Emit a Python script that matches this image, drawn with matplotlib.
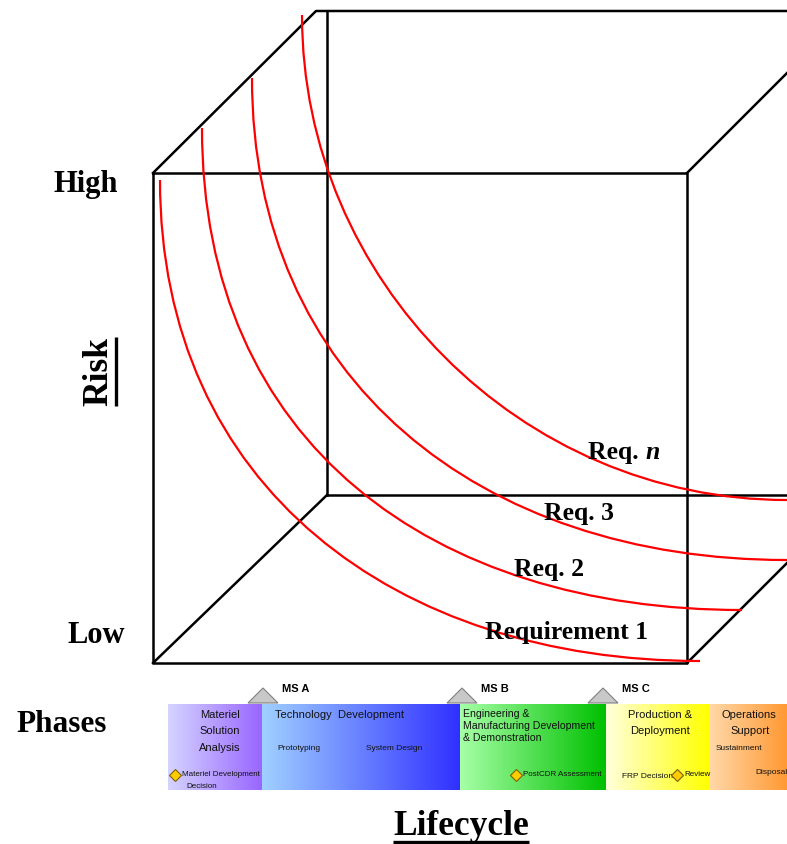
import numpy as np
import matplotlib
matplotlib.use("Agg")
import matplotlib.pyplot as plt
from matplotlib.path import Path
from matplotlib.patches import PathPatch, Polygon

# ---------------- data (pixel space) ----------------
req_labels = ["Requirement 1", "Req. 2", "Req. 3", "Req. "]

req1_x = [160, 162, 167, 175, 188, 200, 233, 267, 302, 322, 400, 483, 550, 633, 700]
req1_y = [180, 200, 233, 300, 350, 383, 433, 483, 522, 540, 597, 633, 652, 661, 661]

req2_x = [202, 208, 218, 233, 260, 290, 327, 368, 400, 427, 500, 550, 633, 742]
req2_y = [128, 200, 250, 300, 367, 407, 453, 497, 520, 540, 580, 600, 611, 610]

req3_x = [252, 255, 263, 283, 305, 327, 357, 400, 450, 490, 567, 633, 687, 787]
req3_y = [78, 133, 200, 250, 300, 340, 377, 423, 463, 496, 540, 558, 562, 560]

reqn_x = [302, 308, 328, 337, 353, 393, 433, 467, 480, 567, 587, 687, 787]
reqn_y = [15, 100, 173, 200, 233, 300, 340, 377, 387, 448, 457, 490, 500]

phase_names = ["Materiel\nSolution\nAnalysis", "Technology  Development",
               "Engineering &\nManufacturing Development\n& Demonstration",
               "Production &\nDeployment", "Operations\nSupport"]
phase_start = [168, 262, 460, 606, 710]
phase_end = [262, 460, 606, 710, 787]
phase_left_colors = ["#d4d4ff", "#a0d0ff", "#a6ffa6", "#ffffdc", "#ffd8a8"]
phase_right_colors = ["#9966ff", "#3030ff", "#00c000", "#ffff00", "#ff9933"]

milestones = ["MS A", "MS B", "MS C"]
milestone_pos = [263, 462, 603]

activities = ["Prototyping", "System Design", "Sustainment", "FRP Decision"]
activity_pos = [277, 366, 716, 622]
activity_row = [748, 748, 748, 776]

decisions = ["Materiel Development", "PostCDR Assessment", "Review", "Disposal"]
decision_pos = [175, 516, 677, 755]
decision_has_diamond = [True, True, True, False]

# ---------------- figure ----------------
W, H = 787, 844
fig = plt.figure(figsize=(W / 100, H / 100), dpi=100)
ax = fig.add_axes([0, 0, 1, 1])
ax.set_xlim(0, W)
ax.set_ylim(H, 0)
ax.axis("off")

serif = "Liberation Serif"
sans = "Liberation Sans"

# cube
k = dict(color="black", lw=1.8, solid_capstyle="projecting", zorder=2)
fx0, fy0, fx1, fy1 = 153, 173, 687, 663
bx0, by0, by1 = 327, 11, 495
ax.plot([fx0, fx1, fx1, fx0, fx0], [fy0, fy0, fy1, fy1, fy0], **k)
ax.plot([fx0, 316, W], [fy0, by0, by0], **k)
ax.plot([bx0, bx0], [by0, by1], **k)
ax.plot([bx0, W], [by1, by1], **k)
ax.plot([fx0, bx0], [fy1, by1], **k)
ax.plot([fx1, W], [fy1, fy1 - 100], **k)
ax.plot([fx1, W], [fy0, fy0 - 100], **k)


def bezier_fit(xs, ys, iters=40):
    """Least-squares cubic Bezier through the read points: ends fixed,
    vertical tangent at the start, horizontal tangent at the end."""
    p = np.column_stack([xs, ys]).astype(float)
    d = np.r_[0, np.cumsum(np.hypot(*np.diff(p, axis=0).T))]
    t = d / d[-1]
    (x0, y0), (x3, y3) = p[0], p[-1]
    tt = np.linspace(0, 1, 2001)
    for _ in range(iters):
        u = 1 - t
        ax_ = -3 * u * t ** 2
        rx = p[:, 0] - (u ** 3 + 3 * u ** 2 * t) * x0 - (3 * u * t ** 2 + t ** 3) * x3
        b = (ax_ @ rx) / (ax_ @ ax_)
        ay_ = 3 * u ** 2 * t
        ry = p[:, 1] - (u ** 3 + 3 * u ** 2 * t) * y0 - (3 * u * t ** 2 + t ** 3) * y3
        a = (ay_ @ ry) / (ay_ @ ay_)
        P0 = np.array([x0, y0]); P1 = np.array([x0, y0 + a])
        P2 = np.array([x3 - b, y3]); P3 = np.array([x3, y3])
        uu = 1 - tt
        curve = (np.outer(uu ** 3, P0) + np.outer(3 * uu ** 2 * tt, P1)
                 + np.outer(3 * uu * tt ** 2, P2) + np.outer(tt ** 3, P3))
        dist = ((p[:, None, :] - curve[None, :, :]) ** 2).sum(-1)
        t = tt[dist.argmin(axis=1)]
        t[0], t[-1] = 0.0, 1.0
    return Path([P0, P1, P2, P3], [Path.MOVETO, Path.CURVE4, Path.CURVE4, Path.CURVE4])


for xs, ys in [(req1_x, req1_y), (req2_x, req2_y), (req3_x, req3_y), (reqn_x, reqn_y)]:
    ax.add_patch(PathPatch(bezier_fit(xs, ys), fill=False, edgecolor="#ff0000",
                           lw=1.6, zorder=3, capstyle="butt"))

# requirement labels
lab_font = dict(family=serif, weight="bold", fontsize=18.5, ha="left",
                va="baseline", zorder=4)
ax.text(485, 639, req_labels[0], **lab_font)
ax.text(514, 576, req_labels[1], **lab_font)
ax.text(544, 520, req_labels[2], **lab_font)
t_n = ax.text(588, 459, req_labels[3], **lab_font)

# axis labels
big = dict(family=serif, weight="bold", ha="left", va="baseline")
ax.text(53, 192, "High", fontsize=22, **big)
ax.text(68, 643, "Low", fontsize=22, **big)
ax.text(16, 732, "Phases", fontsize=22.5, **big)
t_life = ax.text(393, 835, "Lifecycle", fontsize=25.5, **big)
t_risk = ax.text(107, 406, "Risk", fontsize=25.5, rotation=90,
                 rotation_mode="anchor", **big)

# phase bar
bar_top, bar_bot = 704, 790
for name, x0, x1, cl, cr in zip(phase_names, phase_start, phase_end,
                                phase_left_colors, phase_right_colors):
    c0 = np.array(matplotlib.colors.to_rgb(cl))
    c1 = np.array(matplotlib.colors.to_rgb(cr))
    f = np.linspace(0, 1, 256)[:, None]
    grad = (c0 * (1 - f) + c1 * f)[None, :, :]
    ax.imshow(grad, extent=[x0, x1, bar_bot, bar_top], aspect="auto",
              origin="upper", zorder=1, interpolation="bilinear")

small = dict(family=sans, color="#111111", zorder=5)
fs = 8
for i, line in enumerate(phase_names[0].split("\n")):
    ax.text(220, 715 + 16.5 * i, line, ha="center", va="center", fontsize=fs, **small)
ax.text(275, 715, phase_names[1], ha="left", va="center", fontsize=fs, **small)
for i, line in enumerate(phase_names[2].split("\n")):
    ax.text(463, 714 + 12 * i, line, ha="left", va="center", fontsize=7.6, **small)
for i, line in enumerate(phase_names[3].split("\n")):
    ax.text(660, 715 + 16 * i, line, ha="center", va="center", fontsize=fs, **small)
ax.text(722, 715, "Operations", ha="left", va="center", fontsize=fs, **small)
ax.text(750, 731, "Support", ha="center", va="center", fontsize=fs, **small)

for name, x, y in zip(activities, activity_pos, activity_row):
    ax.text(x, y, name, ha="left", va="center", fontsize=6, **small)

for name, x, dia in zip(decisions, decision_pos, decision_has_diamond):
    if dia:
        ax.plot([x], [775], marker="D", ms=6.5, mfc="#ffcc00", mec="#806000",
                mew=0.8, zorder=6)
        ax.text(x + 7, 775, name, ha="left", va="center", fontsize=5.8, **small)
    else:
        ax.text(x, 773, name, ha="left", va="center", fontsize=6, **small)
ax.text(186, 786, "Decision", ha="left", va="center", fontsize=5.8, **small)

for name, x in zip(milestones, milestone_pos):
    ax.add_patch(Polygon([[x - 15, 703], [x, 688], [x + 15, 703]], closed=True,
                         fc="#c8c8c8", ec="#808080", lw=0.8, zorder=6))
    ax.text(x + 19, 689, name, family=sans, weight="bold", fontsize=8,
            ha="left", va="center", zorder=6)

# cover below bar (clip Decision text)
ax.add_patch(plt.Rectangle((150, bar_bot), 640, 8, fc="white", ec="none", zorder=7))

# underlines and italic n
fig.canvas.draw()
r = fig.canvas.get_renderer()
inv = ax.transData.inverted()
bb = t_n.get_window_extent(r)
nx = inv.transform([[bb.x1, bb.y0]])[0][0]
ax.text(nx, 459, "n", family=serif, weight="bold", style="italic", fontsize=18.5,
        ha="left", va="baseline", zorder=4)
bb = t_life.get_window_extent(r)
(lx0, _), (lx1, _) = inv.transform([[bb.x0, bb.y0], [bb.x1, bb.y1]])
ax.plot([lx0, lx1], [842, 842], color="black", lw=2.4, solid_capstyle="butt")
bb = t_risk.get_window_extent(r)
(_, ry0), (_, ry1) = inv.transform([[bb.x0, bb.y0], [bb.x1, bb.y1]])
ax.plot([116, 116], [ry0, ry1], color="black", lw=2.4, solid_capstyle="butt")

fig.savefig("out.png", dpi=100)
